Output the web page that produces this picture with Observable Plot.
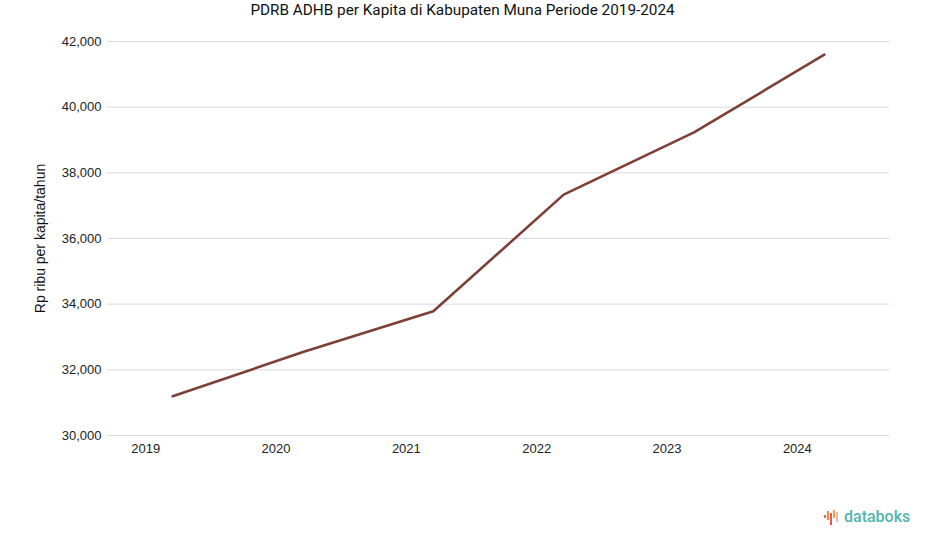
<!DOCTYPE html>
<html>
<head>
<meta charset="utf-8">
<script src="https://cdn.jsdelivr.net/npm/d3@7"></script>
<script src="https://cdn.jsdelivr.net/npm/@observablehq/plot@0.6"></script>
<style>
  html, body { margin: 0; padding: 0; background: #fff; }
  #wrap { position: relative; width: 925px; height: 547px; overflow: hidden; }
  #title { height: 24px; line-height: 21px; text-align: center; font-family: Roboto, sans-serif; font-size: 15.3px; color: #111; }
  #logo { position: absolute; left: 824px; top: 507px; display: flex; align-items: center; font-family: Roboto, sans-serif; font-weight: 500; font-size: 16px; color: #4fb5ae; }
  #logo svg { margin-right: 3px; }
</style>
</head>
<body>
<div id="wrap">
  <div id="title">PDRB ADHB per Kapita di Kabupaten Muna Periode 2019-2024</div>
  <div id="chart"></div>
  <div id="logo">
    <svg width="17" height="18" viewBox="0 0 17 18">
      <rect x="0" y="7" width="2" height="3" fill="#e8664a"/>
      <rect x="3" y="3" width="2" height="9" fill="#f08a4b"/>
      <rect x="6" y="5" width="2" height="12" fill="#e8554a"/>
      <rect x="9" y="2" width="2" height="8" fill="#f3a14a"/>
      <rect x="12" y="4" width="2" height="10" fill="#f2b8ae"/>
    </svg>
    <span>databoks</span>
  </div>
</div>
<script>
const years = [2019, 2020, 2021, 2022, 2023, 2024];
const values = [31196, 32540, 33784, 37336, 39233, 41598];
const yTicks = [30000, 32000, 34000, 36000, 38000, 40000, 42000];
const yLabel = "Rp ribu per kapita/tahun";

const data = years.map((year, i) => ({year, value: values[i]}));

const chart = Plot.plot({
  width: 925,
  height: 523,
  marginTop: 17,
  marginBottom: 112,
  marginLeft: 107,
  marginRight: 36,
  style: { fontFamily: "'Liberation Sans', Arial, sans-serif", fontSize: "13px", color: "#222", background: "#fff" },
  x: { domain: [2018.5, 2024.5] },
  y: { domain: [30000, 42000] },
  marks: [
    Plot.gridY(yTicks, { stroke: "#d9d9d9", strokeOpacity: 1, strokeWidth: 1 }),
    Plot.axisY(yTicks, { tickSize: 0, tickPadding: 6, tickFormat: d3.format(","), label: null, fontSize: 13 }),
    Plot.axisX(years, { tickSize: 0, tickPadding: 8, dx: -27, tickFormat: d => String(d), label: null, fontSize: 13 }),
    Plot.text([yLabel], { frameAnchor: "left", textAnchor: "middle", dx: -67, rotate: -90, text: d => d, fontSize: 14, fill: "#111" }),
    Plot.line(data, { x: "year", y: "value", stroke: "#7e3f36", strokeWidth: 2.6, curve: "linear" })
  ]
});
document.getElementById("chart").appendChild(chart);
</script>
</body>
</html>
